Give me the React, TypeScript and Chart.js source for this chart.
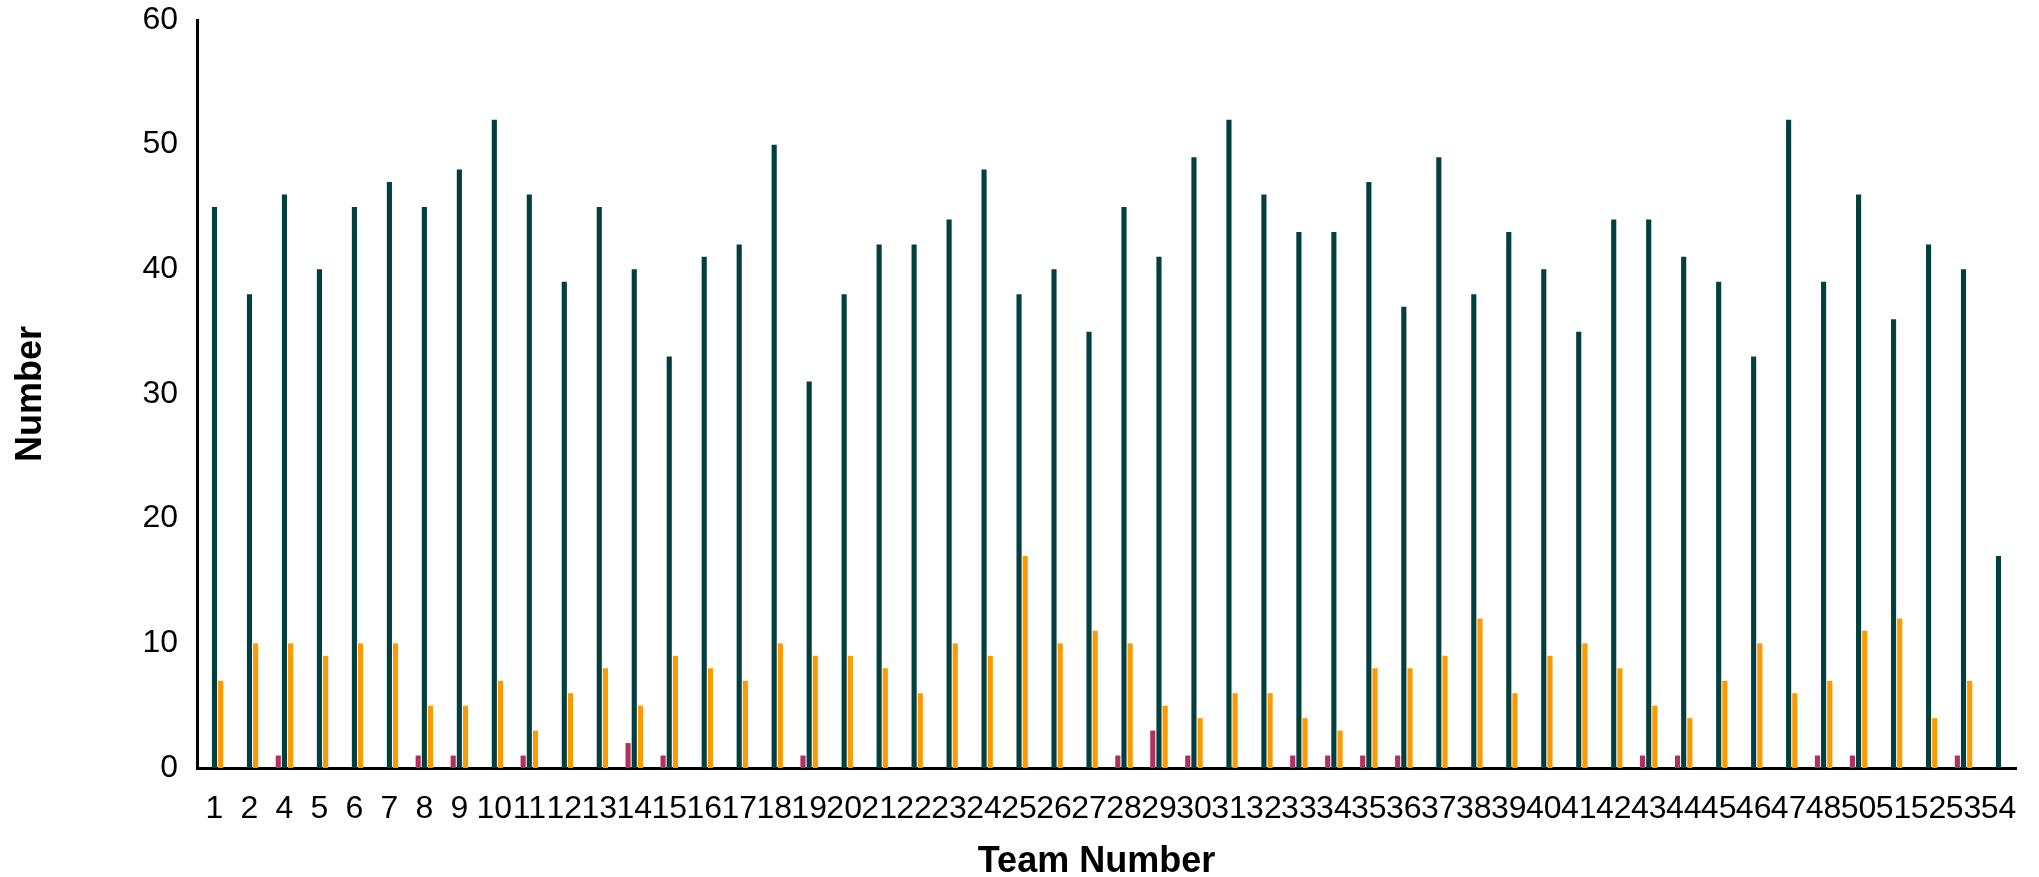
import React, { useEffect, useRef } from "react";
import { Chart, registerables } from "chart.js";

Chart.register(...registerables);

const teamLabels: string[] = [
  "1", "2", "4", "5", "6", "7", "8", "9", "10", "11", "12", "13", "14", "15", "16", "17", "18",
  "19", "20", "21", "22", "23", "24", "25", "26", "27", "28", "29", "30", "31", "32", "33", "34",
  "35", "36", "37", "38", "39", "40", "41", "42", "43", "44", "45", "46", "47", "48", "50", "51",
  "52", "53", "54",
];

const seriesCrimson: number[] = [
  0, 0, 1, 0, 0, 0, 1, 1, 0, 1, 0, 0, 2, 1, 0, 0, 0,
  1, 0, 0, 0, 0, 0, 0, 0, 0, 1, 3, 1, 0, 0, 1, 1,
  1, 1, 0, 0, 0, 0, 0, 0, 1, 1, 0, 0, 0, 1, 1, 0,
  0, 1, 0,
];

const seriesGreen: number[] = [
  45, 38, 46, 40, 45, 47, 45, 48, 52, 46, 39, 45, 40, 33, 41, 42, 50,
  31, 38, 42, 42, 44, 48, 38, 40, 35, 45, 41, 49, 52, 46, 43, 43,
  47, 37, 49, 38, 43, 40, 35, 44, 44, 41, 39, 33, 52, 39, 46, 36,
  42, 40, 17,
];

const seriesOrange: number[] = [
  7, 10, 10, 9, 10, 10, 5, 5, 7, 3, 6, 8, 5, 9, 8, 7, 10,
  9, 9, 8, 6, 10, 9, 17, 10, 11, 10, 5, 4, 6, 6, 4, 3,
  8, 8, 9, 12, 6, 9, 10, 8, 5, 4, 7, 10, 6, 7, 11, 12,
  4, 7, 0,
];

const FONT = "Arial, 'Liberation Sans', Helvetica, sans-serif";

export default function App() {
  const canvasRef = useRef<HTMLCanvasElement | null>(null);

  useEffect(() => {
    if (!canvasRef.current) return;
    const chart = new Chart(canvasRef.current, {
      type: "bar",
      data: {
        labels: teamLabels,
        datasets: [
          { label: "Series 1", data: seriesCrimson, backgroundColor: "#B0305F", borderWidth: 0 },
          { label: "Series 2", data: seriesGreen, backgroundColor: "#023F3F", borderWidth: 0 },
          { label: "Series 3", data: seriesOrange, backgroundColor: "#FF9900", borderWidth: 0 },
        ],
      },
      options: {
        responsive: false,
        animation: false,
        devicePixelRatio: 1,
        layout: { padding: { left: 0, right: 23, top: 20, bottom: 0 } },
        datasets: {
          bar: { categoryPercentage: 0.53, barPercentage: 0.83 },
        },
        plugins: {
          legend: { display: false },
          tooltip: { enabled: false },
          title: { display: false },
        },
        scales: {
          x: {
            grid: { display: false, drawTicks: false },
            border: { display: true, color: "#000000", width: 3 },
            ticks: {
              color: "#000000",
              font: { family: FONT, size: 32 },
              autoSkip: false,
              maxRotation: 0,
              minRotation: 0,
              padding: 22,
            },
            title: {
              display: true,
              text: "Team Number  ",
              color: "#000000",
              font: { family: FONT, size: 36, weight: "bold", lineHeight: 0.85 },
              padding: { top: 0, bottom: 0 },
            },
            afterFit: (scale: any) => {
              scale.height = 109;
              scale.paddingLeft = 0;
              scale.paddingRight = 0;
            },
          },
          y: {
            min: 0,
            max: 60,
            grid: { display: false, drawTicks: false },
            border: { display: true, color: "#000000", width: 3 },
            ticks: {
              stepSize: 10,
              color: "#000000",
              font: { family: FONT, size: 32 },
              padding: 19,
            },
            title: {
              display: true,
              text: "Number",
              color: "#000000",
              font: { family: FONT, size: 36, weight: "bold" },
              padding: { top: 9, bottom: 0 },
            },
            afterFit: (scale: any) => {
              scale.width = 197;
              scale.paddingTop = 0;
              scale.paddingBottom = 0;
            },
          },
        },
      },
    });
    return () => chart.destroy();
  }, []);

  return (
    <div style={{ position: "fixed", left: 0, top: 0, width: 2039, height: 877, background: "#ffffff" }}>
      <canvas ref={canvasRef} width={2039} height={877} style={{ display: "block", width: 2039, height: 877 }} />
    </div>
  );
}
